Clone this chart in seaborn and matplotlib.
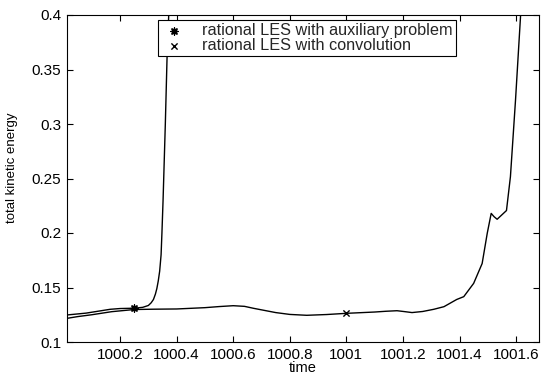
import matplotlib
matplotlib.use("Agg")
import matplotlib.pyplot as plt
import seaborn as sns
import pandas as pd

# ---- data ----
aux_time = [1000.0125, 1000.08, 1000.165, 1000.2, 1000.25, 1000.28, 1000.30,
            1000.31, 1000.318, 1000.325, 1000.33, 1000.335, 1000.34, 1000.345,
            1000.348, 1000.352, 1000.36, 1000.366, 1000.372]
aux_energy = [0.1248, 0.1265, 0.1300, 0.1307, 0.1310, 0.1318, 0.1335,
              0.1360, 0.1390, 0.1440, 0.1490, 0.1560, 0.1650, 0.1800,
              0.2000, 0.2300, 0.3000, 0.3600, 0.4000]

conv_time = [1000.0125, 1000.05, 1000.1, 1000.17, 1000.25, 1000.32, 1000.4,
             1000.5, 1000.55, 1000.6, 1000.64, 1000.672, 1000.75, 1000.8,
             1000.86, 1000.93, 1001.0, 1001.05, 1001.1, 1001.14, 1001.179,
             1001.205, 1001.232, 1001.27, 1001.309, 1001.345, 1001.39,
             1001.415, 1001.45, 1001.48, 1001.498, 1001.512, 1001.522,
             1001.533, 1001.566, 1001.58, 1001.598, 1001.616]
conv_energy = [0.1217, 0.1233, 0.1250, 0.1278, 0.1298, 0.1301, 0.1303,
               0.1315, 0.1325, 0.1333, 0.1327, 0.1309, 0.1270, 0.1253,
               0.1245, 0.1252, 0.1263, 0.1269, 0.1275, 0.1282, 0.1287,
               0.1279, 0.1270, 0.1280, 0.1300, 0.1324, 0.1390,
               0.1416, 0.1538, 0.1720, 0.1997, 0.2180, 0.2150,
               0.2126, 0.2206, 0.2517, 0.3220, 0.4000]

aux_marker_time = [1000.25]
aux_marker_energy = [0.1310]
conv_marker_time = [1001.0]
conv_marker_energy = [0.1263]

labels = ["rational LES with auxiliary problem", "rational LES with convolution"]
x_ticks = [1000.2, 1000.4, 1000.6, 1000.8, 1001.0, 1001.2, 1001.4, 1001.6]
x_tick_labels = ["1000.2", "1000.4", "1000.6", "1000.8", "1001", "1001.2", "1001.4", "1001.6"]
y_ticks = [0.1, 0.15, 0.2, 0.25, 0.3, 0.35, 0.4]
y_tick_labels = ["0.1", "0.15", "0.2", "0.25", "0.3", "0.35", "0.4"]

sns.set_theme(style="ticks")
plt.rcParams['font.family'] = ['Liberation Sans', 'DejaVu Sans']

fig = plt.figure(figsize=(5.41, 3.77), dpi=100)
ax = fig.add_axes([67/541, 1 - 342/377, (539 - 67)/541, (342 - 15)/377])

df_aux = pd.DataFrame({"time": aux_time, "energy": aux_energy})
df_conv = pd.DataFrame({"time": conv_time, "energy": conv_energy})
sns.lineplot(data=df_aux, x="time", y="energy", ax=ax, color="black", lw=1.0,
             sort=False, estimator=None)
sns.lineplot(data=df_conv, x="time", y="energy", ax=ax, color="black", lw=1.0,
             sort=False, estimator=None)

sns.scatterplot(x=aux_marker_time, y=aux_marker_energy, ax=ax, marker=(8, 2, 0),
                color="black", s=25, linewidth=1.0, edgecolor="black", label=labels[0])
sns.scatterplot(x=conv_marker_time, y=conv_marker_energy, ax=ax, marker="x",
                color="black", s=20, linewidth=1.0, label=labels[1])

ax.set_xlim(1000.0124, 1001.681)
ax.set_ylim(0.1, 0.4)
ax.set_xticks(x_ticks)
ax.set_xticklabels(x_tick_labels)
ax.set_yticks(y_ticks)
ax.set_yticklabels(y_tick_labels)
ax.tick_params(direction="in", length=4, width=0.8, labelsize=11, colors="black",
               top=True, right=True, pad=4)
for s in ax.spines.values():
    s.set_visible(True)
    s.set_color("black")
    s.set_linewidth(0.8)

ax.set_xlabel("time", fontsize=10.5, color="black")
ax.xaxis.set_label_coords(0.5, -0.058)
ax.set_ylabel("total kinetic energy", fontsize=9.5, color="black")
ax.yaxis.set_label_coords(-0.104, 0.534)

leg = ax.legend(loc="upper left", bbox_to_anchor=(0.193, 0.985), fontsize=11.7,
                frameon=True, fancybox=False, edgecolor="black", framealpha=1,
                borderpad=0.2, handletextpad=0.9, labelspacing=0.0,
                handlelength=1.6, borderaxespad=0)
leg.get_frame().set_linewidth(0.8)

fig.savefig("out.png", dpi=100)
